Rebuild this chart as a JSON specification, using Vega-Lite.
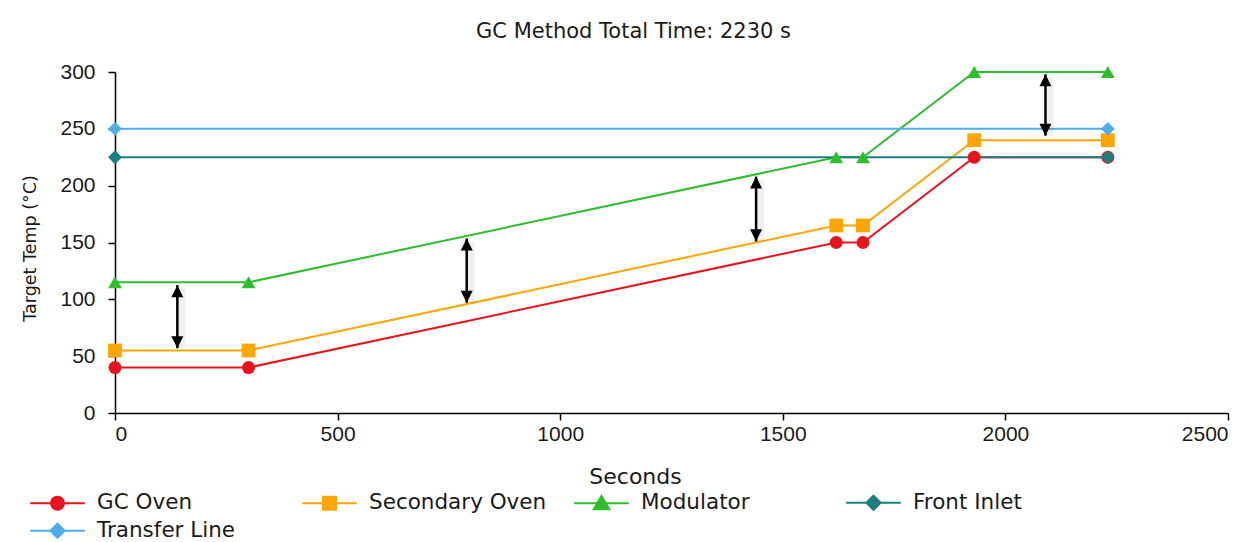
{
  "$schema": "https://vega.github.io/schema/vega-lite/v6.json",
  "width": 1113,
  "height": 341,
  "autosize": {"type": "none"},
  "padding": {"left": 115, "top": 72, "right": 20, "bottom": 129},
  "background": "white",
  "title": {
    "text": "GC Method Total Time: 2230 s",
    "font": "DejaVu Sans",
    "fontSize": 21,
    "fontWeight": "normal",
    "color": "#1a1a1a",
    "anchor": "middle",
    "dx": -38,
    "dy": 32,
    "baseline": "alphabetic",
    "offset": 34
  },
  "config": {
    "view": {"stroke": null},
    "axis": {
      "grid": false,
      "domainColor": "#000000",
      "domainWidth": 1.5,
      "tickColor": "#000000",
      "tickWidth": 1.5,
      "tickSize": 7,
      "labelFont": "Liberation Sans",
      "labelFontSize": 21,
      "labelColor": "#1a1a1a",
      "titleFont": "DejaVu Sans",
      "titleFontWeight": "normal",
      "titleColor": "#1a1a1a"
    }
  },
  "datasets": {
    "series": [
      {"series": "GC Oven", "seconds": 0, "temp": 40},
      {"series": "GC Oven", "seconds": 300, "temp": 40},
      {"series": "GC Oven", "seconds": 1620, "temp": 150},
      {"series": "GC Oven", "seconds": 1680, "temp": 150},
      {"series": "GC Oven", "seconds": 1930, "temp": 225},
      {"series": "GC Oven", "seconds": 2230, "temp": 225},
      {"series": "Secondary Oven", "seconds": 0, "temp": 55},
      {"series": "Secondary Oven", "seconds": 300, "temp": 55},
      {"series": "Secondary Oven", "seconds": 1620, "temp": 165},
      {"series": "Secondary Oven", "seconds": 1680, "temp": 165},
      {"series": "Secondary Oven", "seconds": 1930, "temp": 240},
      {"series": "Secondary Oven", "seconds": 2230, "temp": 240},
      {"series": "Modulator", "seconds": 0, "temp": 115},
      {"series": "Modulator", "seconds": 300, "temp": 115},
      {"series": "Modulator", "seconds": 1620, "temp": 225},
      {"series": "Modulator", "seconds": 1680, "temp": 225},
      {"series": "Modulator", "seconds": 1930, "temp": 300},
      {"series": "Modulator", "seconds": 2230, "temp": 300},
      {"series": "Transfer Line", "seconds": 0, "temp": 250},
      {"series": "Transfer Line", "seconds": 2230, "temp": 250},
      {"series": "Front Inlet", "seconds": 0, "temp": 225},
      {"series": "Front Inlet", "seconds": 2230, "temp": 225}
    ],
    "arrows": [
      {"seconds": 140, "top": 112.5, "bottom": 57},
      {"seconds": 790, "top": 153.5, "bottom": 97},
      {"seconds": 1440, "top": 208, "bottom": 151},
      {"seconds": 2090, "top": 298, "bottom": 244}
    ]
  },
  "layer": [
    {
      "data": {"name": "series"},
      "mark": {"type": "line", "strokeWidth": 2},
      "encoding": {
        "x": {"field": "seconds", "type": "quantitative",
          "scale": {"domain": [0, 2500], "nice": false},
          "axis": {"values": [0, 500, 1000, 1500, 2000, 2500], "format": "d", "labelPadding": 3, "title": "Seconds", "titleFontSize": 22, "titleX": 520, "titleY": 70, "titleBaseline": "alphabetic", "titleAnchor": null,
            "encode": {"ticks": {"update": {"y": {"value": -7}}}}}},
        "y": {"field": "temp", "type": "quantitative",
          "scale": {"domain": [0, 300], "nice": false},
          "axis": {"values": [0, 50, 100, 150, 200, 250, 300], "format": "d", "labelPadding": 13, "title": "Target Temp (°C)", "titleFontSize": 17.5, "titleX": -85, "titleY": 176, "titleAngle": -90, "titleAlign": "center", "titleBaseline": "middle",
            "encode": {"ticks": {"update": {"x": {"value": 7}}}}}},
        "color": {"field": "series", "type": "nominal",
          "scale": {"domain": ["GC Oven", "Secondary Oven", "Modulator", "Front Inlet", "Transfer Line"],
                    "range": ["#E8141C", "#FFA500", "#2DBE2D", "#1B7F82", "#4DAEEA"]},
          "legend": {
            "title": null,
            "orient": "none",
            "legendX": -85,
            "legendY": 420,
            "direction": "horizontal",
            "columns": 4,
            "gridAlign": "all",
            "columnPadding": 23,
            "rowPadding": 5,
            "padding": 0,
            "symbolSize": 169,
            "symbolOffset": 16.75,
            "symbolStrokeWidth": 2,
            "labelOffset": 28.75,
            "labelFont": "DejaVu Sans",
            "labelFontSize": 21.5,
            "labelColor": "#1a1a1a",
            "labelLimit": 400,
            "encode": {
              "symbols": {
                "update": {
                  "shape": {"signal": "datum.value === 'GC Oven' ? 'M-4.2,0H4.2M-1,0A1,1,0,1,1,1,0A1,1,0,1,1,-1,0Z' : datum.value === 'Secondary Oven' ? 'M-4.2,0H4.2M-1,-1H1V1H-1Z' : datum.value === 'Modulator' ? 'M-4.2,0H4.2M0,-1.1L1.2,0.95H-1.2Z' : 'M-4.2,0H4.2M0,-1.1L1.1,0L0,1.1L-1.1,0Z'"},
                  "strokeWidth": {"value": 2},
                  "opacity": {"value": 1},
                  "fillOpacity": {"value": 1},
                  "strokeOpacity": {"value": 1}
                }
              }
            }
          }},
        "detail": {"field": "series", "type": "nominal"}
      }
    },
    {
      "data": {"name": "series"},
      "transform": [{"filter": "datum.series === 'GC Oven'"}],
      "mark": {"type": "point", "filled": true, "opacity": 1, "size": 169, "shape": "circle"},
      "encoding": {
        "x": {"field": "seconds", "type": "quantitative"},
        "y": {"field": "temp", "type": "quantitative"},
        "color": {"field": "series", "type": "nominal"}
      }
    },
    {
      "data": {"name": "series"},
      "transform": [{"filter": "datum.series === 'Secondary Oven'"}],
      "mark": {"type": "point", "filled": true, "opacity": 1, "size": 190, "shape": "square"},
      "encoding": {
        "x": {"field": "seconds", "type": "quantitative"},
        "y": {"field": "temp", "type": "quantitative"},
        "color": {"field": "series", "type": "nominal"}
      }
    },
    {
      "data": {"name": "series"},
      "transform": [{"filter": "datum.series === 'Modulator'"}],
      "mark": {"type": "point", "filled": true, "opacity": 1, "size": 190, "shape": "triangle-up"},
      "encoding": {
        "x": {"field": "seconds", "type": "quantitative"},
        "y": {"field": "temp", "type": "quantitative"},
        "color": {"field": "series", "type": "nominal"}
      }
    },
    {
      "data": {"name": "series"},
      "transform": [{"filter": "datum.series === 'Front Inlet' || datum.series === 'Transfer Line'"}],
      "mark": {"type": "point", "filled": true, "opacity": 1, "size": 190, "shape": "diamond"},
      "encoding": {
        "x": {"field": "seconds", "type": "quantitative"},
        "y": {"field": "temp", "type": "quantitative"},
        "color": {"field": "series", "type": "nominal"}
      }
    },
    {
      "data": {"name": "arrows"},
      "mark": {"type": "rule", "color": "#000000", "opacity": 0.06, "strokeWidth": 8, "xOffset": 4, "yOffset": 3},
      "encoding": {
        "x": {"field": "seconds", "type": "quantitative"},
        "y": {"field": "top", "type": "quantitative"},
        "y2": {"field": "bottom"}
      }
    },
    {
      "data": {"name": "arrows"},
      "mark": {"type": "rule", "color": "#000000", "strokeWidth": 2.5},
      "encoding": {
        "x": {"field": "seconds", "type": "quantitative"},
        "y": {"field": "top", "type": "quantitative"},
        "y2": {"field": "bottom"}
      }
    },
    {
      "data": {"name": "arrows"},
      "mark": {"type": "point", "filled": true, "color": "#000000", "opacity": 1, "size": 144, "shape": "M0,0L1,2L-1,2Z"},
      "encoding": {
        "x": {"field": "seconds", "type": "quantitative"},
        "y": {"field": "top", "type": "quantitative"}
      }
    },
    {
      "data": {"name": "arrows"},
      "mark": {"type": "point", "filled": true, "color": "#000000", "opacity": 1, "size": 144, "shape": "M0,0L1,-2L-1,-2Z"},
      "encoding": {
        "x": {"field": "seconds", "type": "quantitative"},
        "y": {"field": "bottom", "type": "quantitative"}
      }
    }
  ]
}
